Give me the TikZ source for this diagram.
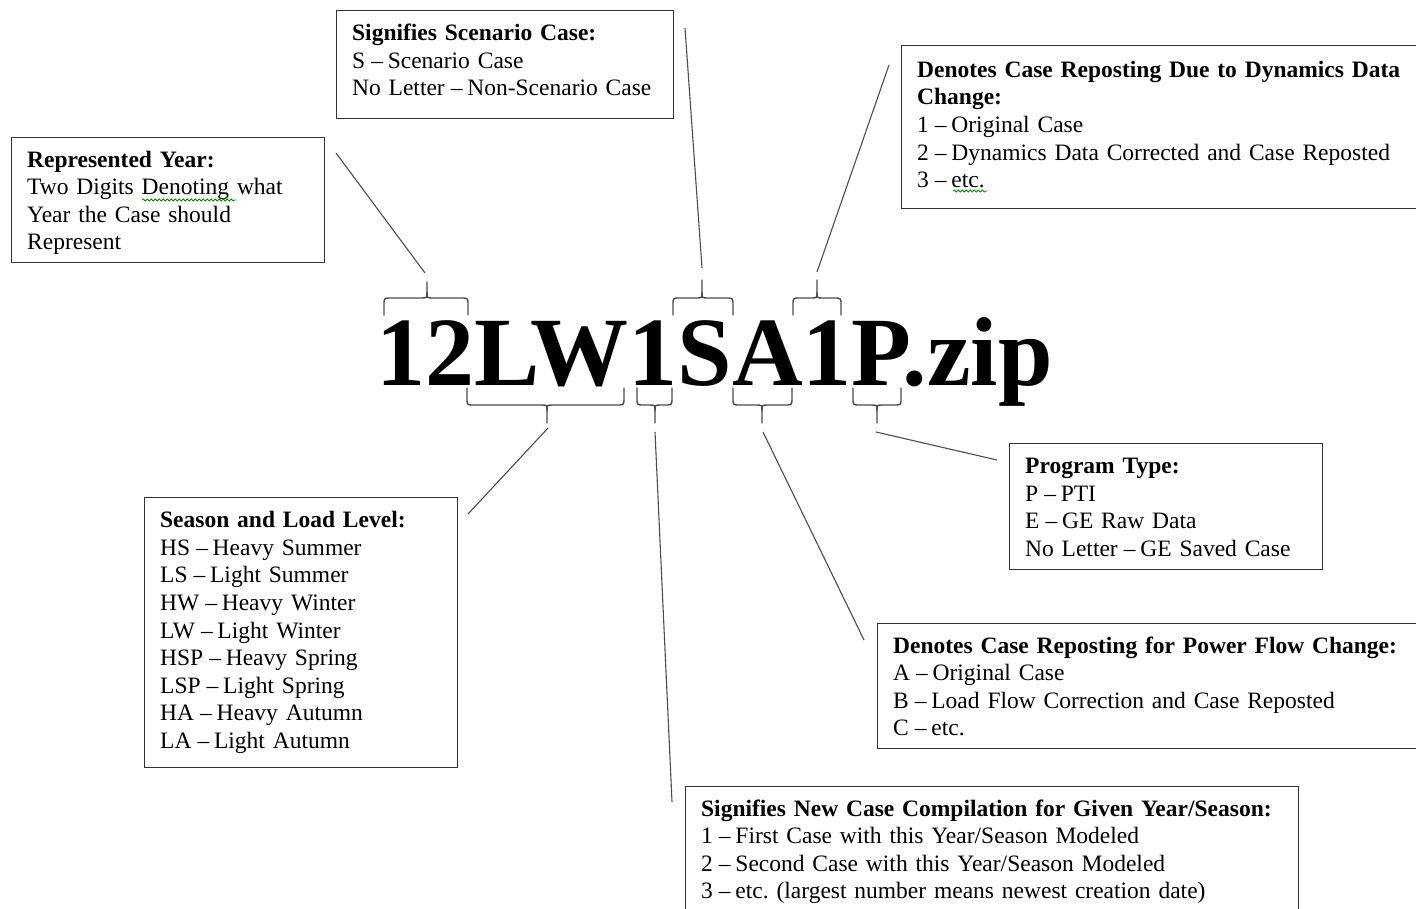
\documentclass[tikz,border=0pt]{standalone}
\usepackage{fontspec}
\setmainfont[WordSpace=0.92]{Liberation Serif}
\usetikzlibrary{calc,decorations.pathmorphing}
\newcommand{\wbrace}[6]{% xl, xm, xr, yend, ymid, ytip
  \draw[bracestyle] (#1,#4) -- ($(#1,#5)!7pt!(#1,#4)$) .. controls (#1,#5) .. ($(#1,#5)!7pt!(#2,#5)$)
     -- ($(#2,#5)!6pt!(#1,#5)$) .. controls (#2,#5) .. ($(#2,#5)!6pt!(#2,#6)$) -- (#2,#6);
  \draw[bracestyle] (#3,#4) -- ($(#3,#5)!7pt!(#3,#4)$) .. controls (#3,#5) .. ($(#3,#5)!7pt!(#2,#5)$)
     -- ($(#2,#5)!6pt!(#3,#5)$) .. controls (#2,#5) .. ($(#2,#5)!6pt!(#2,#6)$);
}
\newcommand{\blines}[1]{\frenchspacing\begin{tabular}{@{}l@{}}\rule{0pt}{25pt}#1\end{tabular}}
\newcommand{\dd}{\hspace{0.26em}--\hspace{0.2em}}
\begin{document}
\begin{tikzpicture}[x=1pt,y=-1pt,
  infobox/.style={draw=black!80, line width=1.3pt, anchor=north west, align=left,
     inner xsep=15.5pt, inner ysep=0pt, fill=white,
     font=\fontsize{23.5pt}{27.6pt}\selectfont},
  bracestyle/.style={draw=black!70, line width=1.4pt, line cap=round},
  conn/.style={draw=black!70, line width=1.1pt},
  squiggle/.style={draw=green!55!black, line width=0.8pt,
     decorate, decoration={snake, segment length=4pt, amplitude=1pt}}]
\useasboundingbox (0,0) rectangle (1416,908);
\clip (0,0) rectangle (1416,908);

% boxes
\node[infobox, text width=282pt, minimum height=125pt] (ry) at (11,137)
  {\blines{\textbf{Represented Year:}\\Two Digits Denoting what\\Year the Case should\\Represent}};
\node[infobox, text width=306pt, minimum height=108pt] (sc) at (336,10)
  {\blines{\textbf{Signifies Scenario Case:}\\S\dd Scenario Case\\No Letter\dd Non-Scenario Case\\[10pt]}};
\node[infobox, text width=520pt, minimum height=163pt] (dy) at (901,45)
  {\blines{\textbf{Denotes Case Reposting Due to Dynamics Data}\\\textbf{Change:}\\1\dd Original Case\\2\dd Dynamics Data Corrected and Case Reposted\\3\dd etc.\\[6pt]}};
\node[infobox, text width=282pt, minimum height=126pt] (pt) at (1009,443)
  {\blines{\textbf{Program Type:}\\P\dd PTI\\E\dd GE Raw Data\\No Letter\dd GE Saved Case}};
\node[infobox, text width=540pt, minimum height=125pt] (pf) at (877,623)
  {\blines{\textbf{Denotes Case Reposting for Power Flow Change:}\\A\dd Original Case\\B\dd Load Flow Correction and Case Reposted\\C\dd etc.}};
\node[infobox, text width=282pt, minimum height=270pt] (sl) at (144,497)
  {\blines{\textbf{Season and Load Level:}\\HS\dd Heavy Summer\\LS\dd Light Summer\\HW\dd Heavy Winter\\LW\dd Light Winter\\HSP\dd Heavy Spring\\LSP\dd Light Spring\\HA\dd Heavy Autumn\\LA\dd Light Autumn\\[6pt]}};
\node[infobox, text width=582pt, minimum height=125pt] (nc) at (685,786)
  {\blines{\textbf{Signifies New Case Compilation for Given Year/Season:}\\1\dd First Case with this Year/Season Modeled\\2\dd Second Case with this Year/Season Modeled\\3\dd etc. (largest number means newest creation date)}};

% spell-check squiggles
\draw[squiggle] (142,200) -- (236,200);
\draw[squiggle] (953,191) -- (987,191);

% file name
\node[anchor=base west, inner sep=0pt, font=\fontsize{98pt}{98pt}\selectfont\bfseries] (fn) at (376,385) {12LW1SA1P.zip};

% braces
\wbrace{384}{427}{468}{315}{298}{282}
\wbrace{673}{702}{733}{315}{298}{280}
\wbrace{793}{817}{841}{315}{298}{280}
\wbrace{467}{547}{624}{388}{405}{423}
\wbrace{637}{655}{672}{388}{405}{423}
\wbrace{733}{762}{792}{388}{405}{423}
\wbrace{853}{877}{901}{388}{405}{423}

% connector end points
\coordinate (t1) at (425,273); \coordinate (e1) at (336,153);
\coordinate (t2) at (702,268); \coordinate (e2) at (685,28);
\coordinate (t3) at (817,272); \coordinate (e3) at (889,65);
\coordinate (b1) at (548,428); \coordinate (e4) at (468,514);
\coordinate (b2) at (655,432); \coordinate (e5) at (672,802);
\coordinate (b3) at (763,432); \coordinate (e6) at (864,640);
\coordinate (b4) at (876,432); \coordinate (e7) at (997,460);

\draw[conn] (t1) -- (e1);
\draw[conn] (t2) -- (e2);
\draw[conn] (t3) -- (e3);
\draw[conn] (b1) -- (e4);
\draw[conn] (b2) -- (e5);
\draw[conn] (b3) -- (e6);
\draw[conn] (b4) -- (e7);
\end{tikzpicture}
\end{document}
